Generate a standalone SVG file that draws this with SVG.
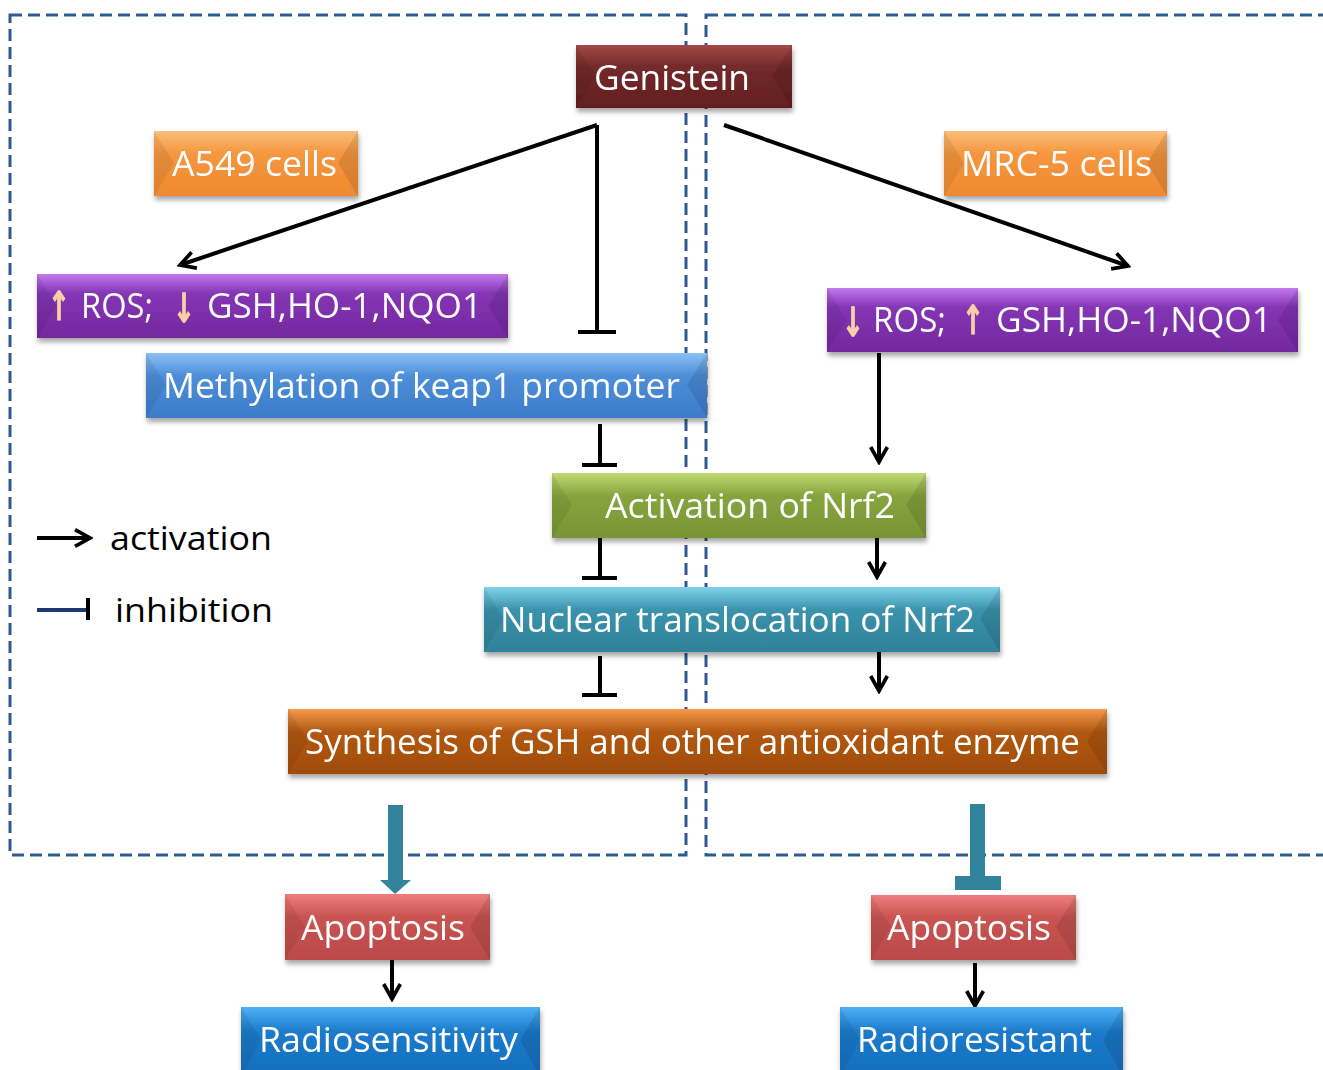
<svg xmlns="http://www.w3.org/2000/svg" width="1323" height="1070" viewBox="0 0 1323 1070">
<defs>
<style>
.t{font-family:"Open Sans","Noto Sans","Liberation Sans",sans-serif;font-size:34px;fill:#ffffff}
.lg{font-family:"Open Sans","Noto Sans","Liberation Sans",sans-serif;font-size:32px;fill:#000000}
.ar{font-family:"DejaVu Sans",sans-serif;font-size:40px;font-weight:bold;fill:#F9CFA6;stroke:#F9CFA6;stroke-width:1}
.dash{fill:none;stroke:#2E5A93;stroke-width:3;stroke-dasharray:12 6}
.c{fill:none;stroke:#000;stroke-width:4}
.bevL{fill:#000;opacity:0.07}
.bevR{fill:#000;opacity:0.1}
</style>
<filter id="sh" x="-10%" y="-20%" width="120%" height="150%"><feDropShadow dx="1" dy="4" stdDeviation="2.5" flood-color="#000" flood-opacity="0.35"/></filter>
<linearGradient id="gGen" x1="0" y1="0" x2="0" y2="1"><stop offset="0" stop-color="#A34848"/><stop offset="0.35" stop-color="#732A2A"/><stop offset="1" stop-color="#621F1F"/></linearGradient>
<linearGradient id="gOr" x1="0" y1="0" x2="0" y2="1"><stop offset="0" stop-color="#FBBE78"/><stop offset="0.35" stop-color="#F5963F"/><stop offset="1" stop-color="#EE8A30"/></linearGradient>
<linearGradient id="gPu" x1="0" y1="0" x2="0" y2="1"><stop offset="0" stop-color="#C07AEE"/><stop offset="0.3" stop-color="#8535B5"/><stop offset="1" stop-color="#73289E"/></linearGradient>
<linearGradient id="gBl" x1="0" y1="0" x2="0" y2="1"><stop offset="0" stop-color="#8CC0F5"/><stop offset="0.35" stop-color="#4D8ED9"/><stop offset="1" stop-color="#3C7CC8"/></linearGradient>
<linearGradient id="gGr" x1="0" y1="0" x2="0" y2="1"><stop offset="0" stop-color="#C0DA72"/><stop offset="0.35" stop-color="#86A43E"/><stop offset="1" stop-color="#789534"/></linearGradient>
<linearGradient id="gTe" x1="0" y1="0" x2="0" y2="1"><stop offset="0" stop-color="#7FD3EA"/><stop offset="0.35" stop-color="#3A93AC"/><stop offset="1" stop-color="#2F8199"/></linearGradient>
<linearGradient id="gSy" x1="0" y1="0" x2="0" y2="1"><stop offset="0" stop-color="#F59A4C"/><stop offset="0.35" stop-color="#B25812"/><stop offset="1" stop-color="#A04C0A"/></linearGradient>
<linearGradient id="gAp" x1="0" y1="0" x2="0" y2="1"><stop offset="0" stop-color="#EE7E7C"/><stop offset="0.35" stop-color="#C85452"/><stop offset="1" stop-color="#BA4A48"/></linearGradient>
<linearGradient id="gRa" x1="0" y1="0" x2="0" y2="1"><stop offset="0" stop-color="#4DB0F5"/><stop offset="0.35" stop-color="#1C7BCB"/><stop offset="1" stop-color="#136DBD"/></linearGradient>
<marker id="arr" viewBox="0 0 12 12" refX="10" refY="6" markerWidth="5" markerHeight="5" markerUnits="strokeWidth" orient="auto"><path d="M1,1 L10,6 L1,11" fill="none" stroke="#000" stroke-width="2.2"/></marker>
</defs>
<rect width="1323" height="1070" fill="#ffffff"/>

<g id="frames">
<rect class="dash" x="10" y="15" width="676" height="840"/>
<rect class="dash" x="706" y="15" width="620" height="840"/>
</g>

<g id="connectors">
<line class="c" x1="597" y1="125" x2="180" y2="265" marker-end="url(#arr)"/>
<line class="c" x1="597" y1="125" x2="597" y2="332"/>
<line class="c" x1="578" y1="332" x2="616" y2="332"/>
<line class="c" x1="724" y1="125" x2="1128" y2="266" marker-end="url(#arr)"/>
<line class="c" x1="879" y1="353" x2="879" y2="462" marker-end="url(#arr)"/>
<line class="c" x1="600" y1="424" x2="600" y2="465"/>
<line class="c" x1="582" y1="465" x2="617" y2="465"/>
<line class="c" x1="600" y1="538" x2="600" y2="578"/>
<line class="c" x1="582" y1="578" x2="617" y2="578"/>
<line class="c" x1="877" y1="535" x2="877" y2="577" marker-end="url(#arr)"/>
<line class="c" x1="600" y1="656" x2="600" y2="695"/>
<line class="c" x1="582" y1="695" x2="617" y2="695"/>
<line class="c" x1="879" y1="649" x2="879" y2="691" marker-end="url(#arr)"/>
<rect x="388" y="805" width="15" height="78" fill="#31849B"/>
<polygon points="380,880 411,880 395,894" fill="#31849B"/>
<rect x="970" y="804" width="15" height="76" fill="#31849B"/>
<rect x="955" y="876" width="46" height="14" fill="#31849B"/>
<line class="c" x1="392" y1="957" x2="392" y2="999" marker-end="url(#arr)"/>
<line class="c" x1="975" y1="963" x2="975" y2="1006" marker-end="url(#arr)"/>
</g>

<g id="genistein" filter="url(#sh)">
<rect x="576" y="45" width="216" height="63" fill="url(#gGen)"/>
<polygon class="bevL" points="576,45 596,76 576,108"/><polygon class="bevR" points="792,45 772,76 792,108"/>
<text class="t" x="594" y="90" textLength="156" lengthAdjust="spacingAndGlyphs">Genistein</text>
</g>
<g id="a549" filter="url(#sh)">
<rect x="154" y="131" width="204" height="65" fill="url(#gOr)"/>
<polygon class="bevL" points="154,131 174,163 154,196"/><polygon class="bevR" points="358,131 338,163 358,196"/>
<text class="t" x="172" y="176" textLength="165" lengthAdjust="spacingAndGlyphs">A549 cells</text>
</g>
<g id="mrc5" filter="url(#sh)">
<rect x="944" y="131" width="223" height="65" fill="url(#gOr)"/>
<polygon class="bevL" points="944,131 964,163 944,196"/><polygon class="bevR" points="1167,131 1147,163 1167,196"/>
<text class="t" x="961" y="176" textLength="191" lengthAdjust="spacingAndGlyphs">MRC-5 cells</text>
</g>
<g id="ros-left" filter="url(#sh)">
<rect x="37" y="274" width="471" height="64" fill="url(#gPu)"/>
<polygon class="bevL" points="37,274 57,306 37,338"/><polygon class="bevR" points="508,274 488,306 508,338"/>
<text class="ar" x="48" y="320" textLength="22" lengthAdjust="spacingAndGlyphs">↑</text>
<text class="t" x="81" y="318" textLength="72" lengthAdjust="spacingAndGlyphs">ROS;</text>
<text class="ar" x="173" y="322" textLength="22" lengthAdjust="spacingAndGlyphs">↓</text>
<text class="t" x="207" y="318" textLength="275" lengthAdjust="spacingAndGlyphs">GSH,HO-1,NQO1</text>
</g>
<g id="ros-right" filter="url(#sh)">
<rect x="827" y="288" width="471" height="64" fill="url(#gPu)"/>
<polygon class="bevL" points="827,288 847,320 827,352"/><polygon class="bevR" points="1298,288 1278,320 1298,352"/>
<text class="ar" x="842" y="336" textLength="22" lengthAdjust="spacingAndGlyphs">↓</text>
<text class="t" x="873" y="332" textLength="73" lengthAdjust="spacingAndGlyphs">ROS;</text>
<text class="ar" x="962" y="334" textLength="22" lengthAdjust="spacingAndGlyphs">↑</text>
<text class="t" x="996" y="332" textLength="276" lengthAdjust="spacingAndGlyphs">GSH,HO-1,NQO1</text>
</g>
<g id="methylation" filter="url(#sh)">
<rect x="146" y="353" width="561" height="65" fill="url(#gBl)"/>
<polygon class="bevL" points="146,353 166,385 146,418"/><polygon class="bevR" points="707,353 687,385 707,418"/>
<text class="t" x="163" y="398" textLength="517" lengthAdjust="spacingAndGlyphs">Methylation of keap1 promoter</text>
</g>
<g id="activation-nrf2" filter="url(#sh)">
<rect x="552" y="473" width="374" height="65" fill="url(#gGr)"/>
<polygon class="bevL" points="552,473 572,505 552,538"/><polygon class="bevR" points="926,473 906,505 926,538"/>
<text class="t" x="605" y="518" textLength="290" lengthAdjust="spacingAndGlyphs">Activation of Nrf2</text>
</g>
<g id="nuclear" filter="url(#sh)">
<rect x="484" y="587" width="516" height="65" fill="url(#gTe)"/>
<polygon class="bevL" points="484,587 504,619 484,652"/><polygon class="bevR" points="1000,587 980,619 1000,652"/>
<text class="t" x="500" y="632" textLength="475" lengthAdjust="spacingAndGlyphs">Nuclear translocation of Nrf2</text>
</g>
<g id="synthesis" filter="url(#sh)">
<rect x="288" y="709" width="819" height="65" fill="url(#gSy)"/>
<polygon class="bevL" points="288,709 308,741 288,774"/><polygon class="bevR" points="1107,709 1087,741 1107,774"/>
<text class="t" x="305" y="754" textLength="775" lengthAdjust="spacingAndGlyphs">Synthesis of GSH and other antioxidant enzyme</text>
</g>
<g id="apoptosis-left" filter="url(#sh)">
<rect x="285" y="894" width="205" height="66" fill="url(#gAp)"/>
<polygon class="bevL" points="285,894 305,927 285,960"/><polygon class="bevR" points="490,894 470,927 490,960"/>
<text class="t" x="301" y="940" textLength="164" lengthAdjust="spacingAndGlyphs">Apoptosis</text>
</g>
<g id="apoptosis-right" filter="url(#sh)">
<rect x="871" y="895" width="205" height="65" fill="url(#gAp)"/>
<polygon class="bevL" points="871,895 891,927 871,960"/><polygon class="bevR" points="1076,895 1056,927 1076,960"/>
<text class="t" x="887" y="940" textLength="164" lengthAdjust="spacingAndGlyphs">Apoptosis</text>
</g>
<g id="radiosensitivity" filter="url(#sh)">
<rect x="241" y="1007" width="299" height="70" fill="url(#gRa)"/>
<polygon class="bevL" points="241,1007 261,1040 241,1077"/><polygon class="bevR" points="540,1007 520,1040 540,1077"/>
<text class="t" x="259" y="1052" textLength="259" lengthAdjust="spacingAndGlyphs">Radiosensitivity</text>
</g>
<g id="radioresistant" filter="url(#sh)">
<rect x="840" y="1007" width="283" height="70" fill="url(#gRa)"/>
<polygon class="bevL" points="840,1007 860,1040 840,1077"/><polygon class="bevR" points="1123,1007 1103,1040 1123,1077"/>
<text class="t" x="857" y="1052" textLength="235" lengthAdjust="spacingAndGlyphs">Radioresistant</text>
</g>

<g id="legend">
<line class="c" x1="37" y1="538" x2="90" y2="538" marker-end="url(#arr)"/>
<text class="lg" x="110" y="550" textLength="162" lengthAdjust="spacingAndGlyphs">activation</text>
<line x1="37" y1="610" x2="88" y2="610" stroke="#1F3A6E" stroke-width="4"/>
<line x1="88" y1="598" x2="88" y2="620" stroke="#000" stroke-width="4"/>
<text class="lg" x="115" y="622" textLength="158" lengthAdjust="spacingAndGlyphs">inhibition</text>
</g>
</svg>
